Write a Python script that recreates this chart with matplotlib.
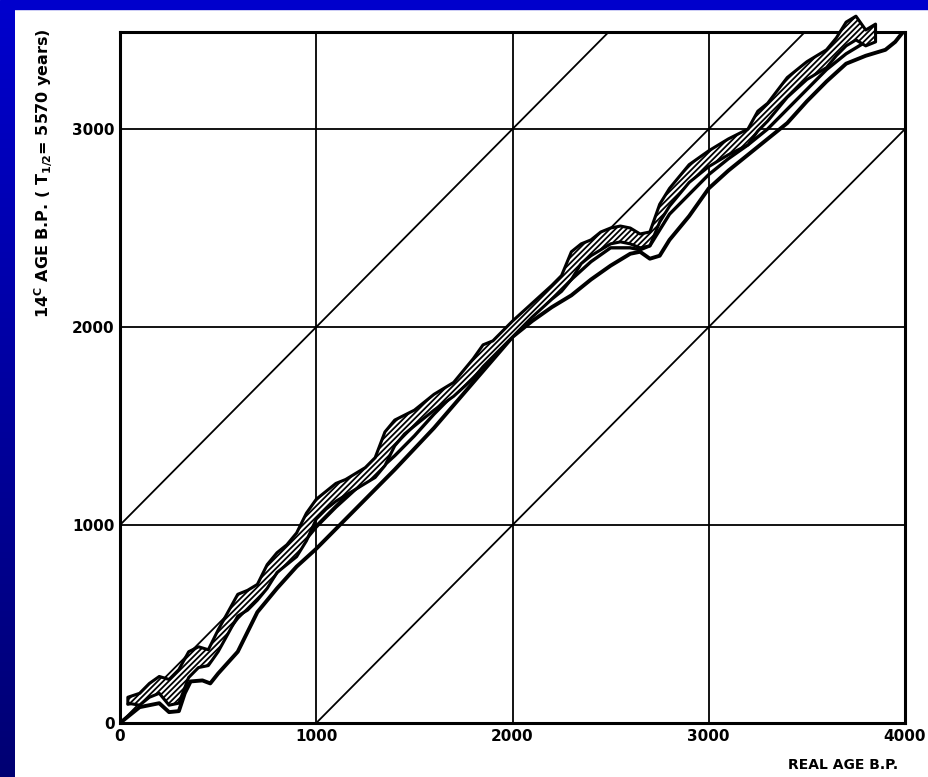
import numpy as np
import matplotlib.pyplot as plt
from matplotlib.patches import Rectangle

# ── Data ──────────────────────────────────────────────────────
x_ticks = [0, 1000, 2000, 3000, 4000]
y_ticks = [0, 1000, 2000, 3000]
diag_offsets = [1000, 0, -1000]          # straight guide lines y = x + offset

# hatched band of dendro-dated samples
band_x  = [40, 100, 150, 200, 250, 300, 350, 400, 450, 500, 550, 600, 650, 700,
           750, 800, 850, 900, 950, 1000, 1050, 1100, 1150, 1200, 1250, 1300,
           1350, 1400, 1450, 1500, 1600, 1700, 1800, 1850, 1900, 2000, 2100,
           2200, 2250, 2300, 2350, 2400, 2450, 2500, 2550, 2600, 2650, 2700,
           2750, 2800, 2900, 3000, 3100, 3200, 3250, 3300, 3400, 3500, 3600,
           3650, 3700, 3750, 3800, 3850]
band_hi = [130, 150, 200, 235, 220, 270, 360, 385, 370, 470, 560, 650, 670, 700,
           800, 860, 900, 960, 1060, 1130, 1170, 1210, 1230, 1260, 1290, 1340,
           1470, 1530, 1555, 1580, 1660, 1720, 1840, 1910, 1930, 2030, 2120,
           2210, 2260, 2380, 2420, 2440, 2480, 2500, 2510, 2500, 2470, 2480,
           2620, 2700, 2820, 2890, 2950, 3000, 3090, 3130, 3260, 3340, 3400,
           3460, 3540, 3570, 3500, 3530]
band_lo = [100, 90, 130, 150, 90, 100, 230, 280, 290, 360, 450, 540, 570, 620,
           680, 760, 800, 840, 920, 1030, 1080, 1120, 1150, 1180, 1210, 1240,
           1300, 1400, 1460, 1500, 1580, 1650, 1740, 1800, 1850, 1950, 2050,
           2140, 2180, 2240, 2320, 2360, 2390, 2420, 2430, 2420, 2400, 2410,
           2530, 2610, 2730, 2810, 2870, 2920, 2990, 3040, 3160, 3250, 3310,
           3370, 3420, 3450, 3420, 3440]

# smooth mean curve
mid_x = [40, 100, 200, 300, 400, 500, 600, 700, 800, 900, 1000, 1100, 1200,
         1300, 1400, 1500, 1600, 1700, 1800, 1900, 2000, 2100, 2200, 2300, 2400,
         2500, 2600, 2650, 2700, 2800, 2900, 3000, 3100, 3200, 3300, 3400, 3500,
         3600, 3700, 3800]
mid_y = [95, 110, 170, 230, 310, 400, 530, 630, 760, 870, 990, 1090, 1180,
         1260, 1350, 1450, 1560, 1660, 1760, 1860, 1960, 2060, 2150, 2240, 2330,
         2400, 2400, 2390, 2410, 2570, 2670, 2770, 2850, 2920, 3000, 3100, 3200,
         3300, 3380, 3440]

# lower envelope
low_x = [0, 100, 200, 250, 300, 330, 360, 420, 460, 500, 600, 700, 800, 900,
         1000, 1200, 1400, 1600, 1800, 2000, 2100, 2200, 2300, 2400, 2500, 2600,
         2650, 2700, 2750, 2800, 2900, 3000, 3100, 3200, 3300, 3400, 3500, 3600,
         3700, 3800, 3900, 3950, 3990]
low_y = [0, 80, 100, 55, 60, 150, 210, 215, 200, 250, 360, 560, 680, 790,
         880, 1080, 1280, 1490, 1720, 1950, 2030, 2100, 2160, 2240, 2310, 2370,
         2380, 2345, 2360, 2440, 2560, 2700, 2790, 2870, 2950, 3030, 3140, 3240,
         3330, 3370, 3400, 3440, 3490]

# ── Figure ───────────────────────────────────
plt.rcParams['hatch.linewidth'] = 1.3
fig = plt.figure(figsize=(9.29, 7.77), dpi=100, facecolor='white')

# blue slide frame: top strip and darkening left strip
fig.patches.append(Rectangle((0, 1 - 9 / 777), 1, 9 / 777, transform=fig.transFigure,
                             color=(0, 0, 0.80), zorder=0))
bg = fig.add_axes([0, 0, 15 / 929, 1 - 9 / 777])
grad = np.linspace(0, 1, 256)[:, None]
bg.imshow(grad, aspect='auto', cmap=plt.matplotlib.colors.LinearSegmentedColormap.from_list(
    'slide', [(0, 0, 0.80), (0, 0, 0.45)]))
bg.axis('off')

ax = fig.add_axes([120 / 929, 1 - 723 / 777, (905 - 120) / 929, (723 - 32) / 777])
ax.set_xlim(0, 4000)
ax.set_ylim(0, 3490)

ax.set_xticks(x_ticks)
ax.set_yticks(y_ticks)
ax.grid(True, color='black', linewidth=1.3)
ax.set_axisbelow(True)
ax.tick_params(length=0, labelsize=11, pad=4)
for lab in ax.get_xticklabels() + ax.get_yticklabels():
    lab.set_fontweight('bold')
for s in ax.spines.values():
    s.set_linewidth(2.2)

# straight guide lines
xs = np.array([0, 4000])
for off in diag_offsets:
    ax.plot(xs, xs + off, color='black', linewidth=1.3)

# curves
ax.plot(low_x, low_y, color='black', linewidth=2.8, solid_capstyle='round')
ax.plot(mid_x, mid_y, color='black', linewidth=2.4, solid_capstyle='round')
ax.fill_between(band_x, band_lo, band_hi, facecolor='white', edgecolor='black',
                hatch='/' * 6, linewidth=2.2, clip_on=False, zorder=3)

ax.set_ylabel(r'14$^{\mathbf{C}}$ AGE B.P. ( T$_{\mathbf{1/2}}$= 5570 years)',
              fontsize=11.5, fontweight='bold')
ax.yaxis.set_label_coords(-0.083, 0.795)
fig.text(843 / 929, 1 - 765 / 777, 'REAL AGE B.P.', fontsize=10, fontweight='bold',
         ha='center', va='center')

plt.savefig('out.png', dpi=100, facecolor=fig.get_facecolor())
